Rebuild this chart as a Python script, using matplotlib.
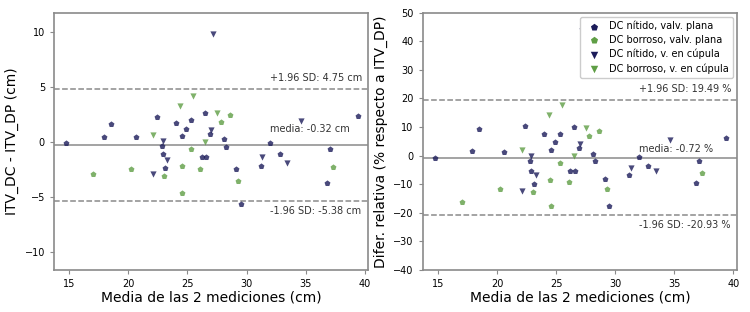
import numpy as np
import matplotlib
matplotlib.use("Agg")
import matplotlib.pyplot as plt

#-------------------- DATA ------------------------#
# DC nitido, valv. plana
nit_plana_x = [14.7, 17.9, 18.5, 20.6, 22.4, 22.8, 24.0, 24.55, 24.9, 25.3, 26.5, 26.9, 28.1,
               28.25, 32.0, 37.1, 39.4, 22.9, 23.1, 26.2, 26.6, 29.1, 29.5, 31.2, 32.8, 36.8]
nit_plana_d = [-0.09, 0.4, 1.66, 0.4, 2.26, -0.36, 1.75, 0.54, 1.18, 1.96, 2.6, 0.76, 0.24,
               -0.45, -0.09, -0.63, 2.35, -1.14, -2.35, -1.38, -1.38, -2.44, -5.67, -2.17, -1.14, -3.74]
nit_plana_p = [-0.7, 1.6, 9.15, 1.4, 10.4, -2.0, 7.4, 2.1, 4.6, 7.7, 10.1, 2.6, 0.7,
               -2.0, -0.35, -1.9, 6.0, -5.3, -10.0, -5.3, -5.3, -8.2, -17.7, -6.9, -3.5, -9.6]

# DC borroso, valv. plana
bor_plana_x = [25.3, 27.8, 28.6, 23.0, 17.0, 20.25, 24.5, 24.55, 26.05, 29.3, 37.35]
bor_plana_d = [-0.63, 1.81, 2.48, -3.08, -2.95, -2.44, -2.17, -4.64, -2.44, -3.58, -2.29]
bor_plana_p = [-2.7, 6.7, 8.7, -12.7, -16.3, -11.7, -8.7, -17.5, -9.2, -11.6, -6.1]

# DC nitido, v. en cupula
nit_cup_x = [22.9, 27.0, 27.2, 34.6, 23.25, 22.1, 31.3, 33.45]
nit_cup_d = [0.04, 1.09, 9.8, 1.85, -1.63, -2.9, -1.38, -1.9]
nit_cup_p = [-0.25, 3.9, 43.7, 5.4, -6.9, -12.5, -4.4, -5.4]

# DC borroso, v. en cupula
bor_cup_x = [22.1, 24.4, 25.5, 26.5, 27.5]
bor_cup_d = [0.58, 3.26, 4.2, 0.0, 2.62]
bor_cup_p = [2.1, 14.1, 17.6, 0.0, 9.7]

# limits of agreement
mean_d, sd_hi_d, sd_lo_d = -0.32, 4.75, -5.38
mean_p, sd_hi_p, sd_lo_p = -0.72, 19.49, -20.93

DARK = '#1c1c5a'
GREEN = '#5f9e45'
LINE = '#8a8a8a'

#-------------------- PLOT ------------------------#
fig = plt.figure(figsize=(7.5, 3.12), dpi=100)
ax1 = fig.add_axes([0.072, 0.135, 0.419, 0.824])
ax2 = fig.add_axes([0.5636, 0.135, 0.419, 0.824])

groups = [
    (nit_plana_x, nit_plana_d, nit_plana_p, DARK, 'p', 'DC nítido, valv. plana'),
    (bor_plana_x, bor_plana_d, bor_plana_p, GREEN, 'p', 'DC borroso, valv. plana'),
    (nit_cup_x, nit_cup_d, nit_cup_p, DARK, 'v', 'DC nítido, v. en cúpula'),
    (bor_cup_x, bor_cup_d, bor_cup_p, GREEN, 'v', 'DC borroso, v. en cúpula'),
]

for x, d, p, c, m, lab in groups:
    ax1.scatter(x, d, s=20, c=c, marker=m, alpha=0.8, linewidths=0, zorder=3)
    ax2.scatter(x, p, s=20, c=c, marker=m, alpha=0.8, linewidths=0, zorder=3, label=lab)


def add_lines(ax, mean, hi, lo, unit, media_off):
    ax.axhline(mean, color=LINE, lw=1.1, zorder=1)
    ax.axhline(hi, color=LINE, lw=1.1, ls='--', zorder=1)
    ax.axhline(lo, color=LINE, lw=1.1, ls='--', zorder=1)
    kw = dict(textcoords='offset points', ha='left', va='center', fontsize=7, color='#333333')
    ax.annotate(f'+1.96 SD: {hi:.2f} {unit}', (32, hi), xytext=(0, 8), **kw)
    ax.annotate(f'media: {mean:.2f} {unit}', (32, mean), xytext=(0, media_off), **kw)
    ax.annotate(f'-1.96 SD: {lo:.2f} {unit}', (32, lo), xytext=(0, -7), **kw)


add_lines(ax1, mean_d, sd_hi_d, sd_lo_d, 'cm', 11.5)
add_lines(ax2, mean_p, sd_hi_p, sd_lo_p, '%', 6.5)

ax1.set_xlim(13.7, 40.3)
ax1.set_ylim(-11.6, 11.7)
ax1.set_yticks([-10, -5, 0, 5, 10])
ax2.set_xlim(13.7, 40.3)
ax2.set_ylim(-40, 50)
ax2.set_yticks(np.arange(-40, 51, 10))

for ax in (ax1, ax2):
    ax.set_xticks([15, 20, 25, 30, 35, 40])
    ax.tick_params(labelsize=7, color=LINE, length=3)
    for sp in ax.spines.values():
        sp.set_color(LINE)
        sp.set_linewidth(1.2)
    ax.set_xlabel('Media de las 2 mediciones (cm)', fontsize=10, labelpad=1)

ax1.set_ylabel('ITV_DC - ITV_DP (cm)', fontsize=10)
ax2.set_ylabel('Difer. relativa (% respecto a ITV_DP)', fontsize=10)

leg = ax2.legend(loc='upper right', fontsize=7, markerscale=1.2, handletextpad=0.6,
                 borderaxespad=0.4, framealpha=1, labelspacing=0.4)
for h in leg.legend_handles:
    h.set_alpha(1)

fig.savefig('out.png', dpi=100)
